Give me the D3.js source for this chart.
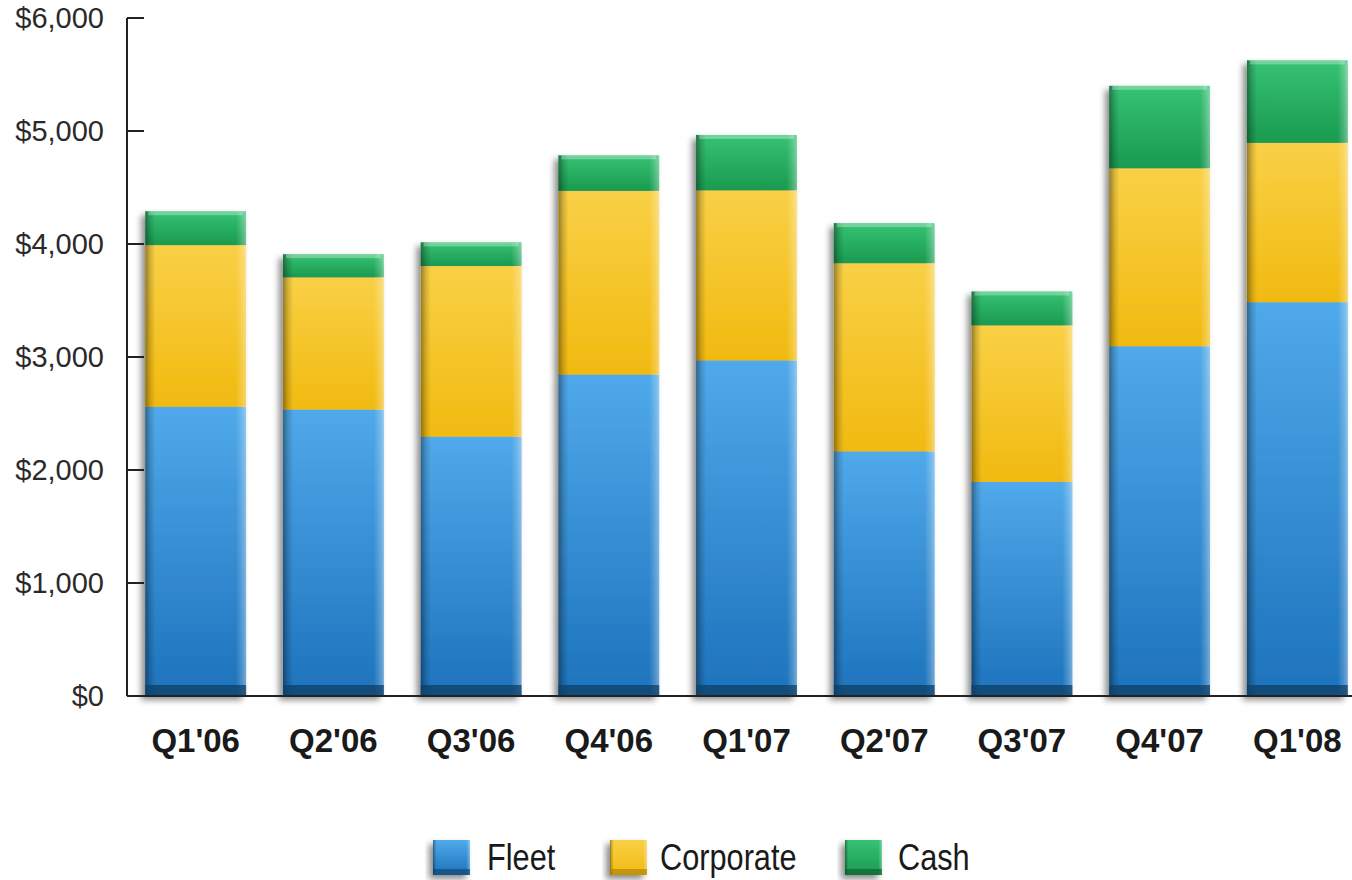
<!DOCTYPE html>
<html>
<head>
<meta charset="utf-8">
<script src="https://cdn.jsdelivr.net/npm/d3@7/dist/d3.min.js"></script>
<style>
  html, body { margin: 0; padding: 0; background: #fff; }
  svg { display: block; }
</style>
</head>
<body>
<svg id="chart" width="1352" height="880"></svg>
<script>
// Quarterly revenue by segment ($ thousands)
const quarters = ["Q1'06", "Q2'06", "Q3'06", "Q4'06", "Q1'07", "Q2'07", "Q3'07", "Q4'07", "Q1'08"];
const fleet     = [2560, 2535, 2295, 2845, 2970, 2165, 1895, 3095, 3485];
const corporate = [1430, 1170, 1510, 1625, 1505, 1665, 1385, 1575, 1410];
const cash      = [ 300,  205,  210,  315,  490,  355,  300,  730,  730];
const seriesNames = ["Fleet", "Corporate", "Cash"];
const yTicks = [0, 1000, 2000, 3000, 4000, 5000, 6000];

const svg = d3.select("#chart");
const defs = svg.append("defs");

const palette = {
  Fleet:     { top: "#50a9ea", bottom: "#1d73bc", dark: "#0f3f66" },
  Corporate: { top: "#f9d046", bottom: "#f1ba10", dark: "#a87c00" },
  Cash:      { top: "#36c274", bottom: "#1a9a50", dark: "#0e5a2c" }
};

// vertical body gradients per series
seriesNames.forEach(name => {
  const g = defs.append("linearGradient").attr("id", "fill-" + name)
    .attr("x1", 0).attr("y1", 0).attr("x2", 0).attr("y2", 1);
  g.append("stop").attr("offset", "0%").attr("stop-color", palette[name].top);
  g.append("stop").attr("offset", "100%").attr("stop-color", palette[name].bottom);
});

// horizontal bevel overlay: dark left edge, light right edge
const bevel = defs.append("linearGradient").attr("id", "bevel")
  .attr("x1", 0).attr("y1", 0).attr("x2", 1).attr("y2", 0);
[["0%", "#000", 0.4], ["5%", "#000", 0.15], ["10%", "#000", 0], ["90%", "#fff", 0], ["96%", "#fff", 0.2], ["100%", "#fff", 0.38]]
  .forEach(([o, c, a]) => bevel.append("stop").attr("offset", o).attr("stop-color", c).attr("stop-opacity", a));

const shadow = defs.append("filter").attr("id", "shadow")
  .attr("x", "-20%").attr("y", "-10%").attr("width", "140%").attr("height", "130%");
shadow.append("feDropShadow").attr("dx", -4).attr("dy", 4).attr("stdDeviation", 3)
  .attr("flood-color", "#000").attr("flood-opacity", 0.45);

const y = d3.scaleLinear().domain([0, 6000]).range([696, 18]);
const x = d3.scaleBand().domain(quarters).range([126, 1367]).paddingInner(0.268).paddingOuter(0.14);

const rows = quarters.map((q, i) => ({ q, Fleet: fleet[i], Corporate: corporate[i], Cash: cash[i] }));
const stack = d3.stack().keys(seriesNames)(rows);

// bars
const barG = svg.append("g");
const columns = barG.selectAll("g.col").data(rows).join("g").attr("class", "col")
  .attr("filter", "url(#shadow)");

columns.each(function (d, i) {
  const g = d3.select(this);
  const x0 = x(d.q), w = x.bandwidth();
  stack.forEach(layer => {
    const [v0, v1] = layer[i];
    g.append("rect")
      .attr("x", x0).attr("width", w)
      .attr("y", y(v1)).attr("height", y(v0) - y(v1))
      .attr("fill", `url(#fill-${layer.key})`);
  });
});

// bevel overlays and edge details on top of each column
const overlay = svg.append("g");
rows.forEach((d, i) => {
  const x0 = x(d.q), w = x.bandwidth();
  const top = y(stack[2][i][1]);
  overlay.append("rect").attr("x", x0).attr("width", w)
    .attr("y", top).attr("height", y(0) - top).attr("fill", "url(#bevel)");
  // dark foot of the column
  overlay.append("rect").attr("x", x0).attr("width", w)
    .attr("y", y(0) - 11).attr("height", 11)
    .attr("fill", palette.Fleet.dark).attr("opacity", 0.75);
  // highlight along the top
  overlay.append("rect").attr("x", x0 + 3).attr("width", w - 6)
    .attr("y", top).attr("height", 4)
    .attr("fill", "#fff").attr("opacity", 0.3);
});

// y axis with inward ticks
const axisG = svg.append("g");
axisG.append("line").attr("x1", 127).attr("x2", 127).attr("y1", y(6000)).attr("y2", y(0))
  .attr("stroke", "#222").attr("stroke-width", 2);
axisG.append("line").attr("x1", 127).attr("x2", 1352).attr("y1", y(0)).attr("y2", y(0))
  .attr("stroke", "#222").attr("stroke-width", 2);
axisG.selectAll("line.tick").data(yTicks).join("line").attr("class", "tick")
  .attr("x1", 127).attr("x2", 144).attr("y1", d => y(d)).attr("y2", d => y(d))
  .attr("stroke", "#222").attr("stroke-width", 2);
axisG.selectAll("text.ylab").data(yTicks).join("text").attr("class", "ylab")
  .attr("x", 104).attr("y", d => y(d)).attr("dy", "0.36em")
  .attr("text-anchor", "end")
  .attr("font-family", "'Liberation Sans', Arial, sans-serif")
  .attr("font-size", 29).attr("fill", "#2a2a2a")
  .text(d => "$" + d3.format(",")(d));

// category labels
svg.append("g").selectAll("text").data(quarters).join("text")
  .attr("x", d => x(d) + x.bandwidth() / 2).attr("y", 752)
  .attr("text-anchor", "middle")
  .attr("font-family", "'Liberation Sans', Arial, sans-serif")
  .attr("font-weight", "bold").attr("font-size", 33).attr("fill", "#1a1a1a")
  .text(d => d);

// legend
const legendItems = [
  { name: "Fleet", sx: 433, tx: 487 },
  { name: "Corporate", sx: 610, tx: 660 },
  { name: "Cash", sx: 845, tx: 898 }
];
const lg = svg.append("g");
legendItems.forEach(it => {
  const sw = 37, sh = 35, sy = 840;
  lg.append("rect").attr("x", it.sx).attr("y", sy).attr("width", sw).attr("height", sh)
    .attr("fill", `url(#fill-${it.name})`).attr("filter", "url(#shadow)");
  lg.append("rect").attr("x", it.sx).attr("y", sy).attr("width", sw).attr("height", sh)
    .attr("fill", "url(#bevel)");
  lg.append("rect").attr("x", it.sx).attr("y", sy + sh - 6).attr("width", sw).attr("height", 6)
    .attr("fill", palette[it.name].dark).attr("opacity", 0.6);
  lg.append("text")
    .attr("transform", `translate(${it.tx},870) scale(0.83,1)`)
    .attr("font-family", "'Liberation Sans', Arial, sans-serif")
    .attr("font-size", 37).attr("fill", "#1a1a1a")
    .text(it.name);
});
</script>
</body>
</html>
